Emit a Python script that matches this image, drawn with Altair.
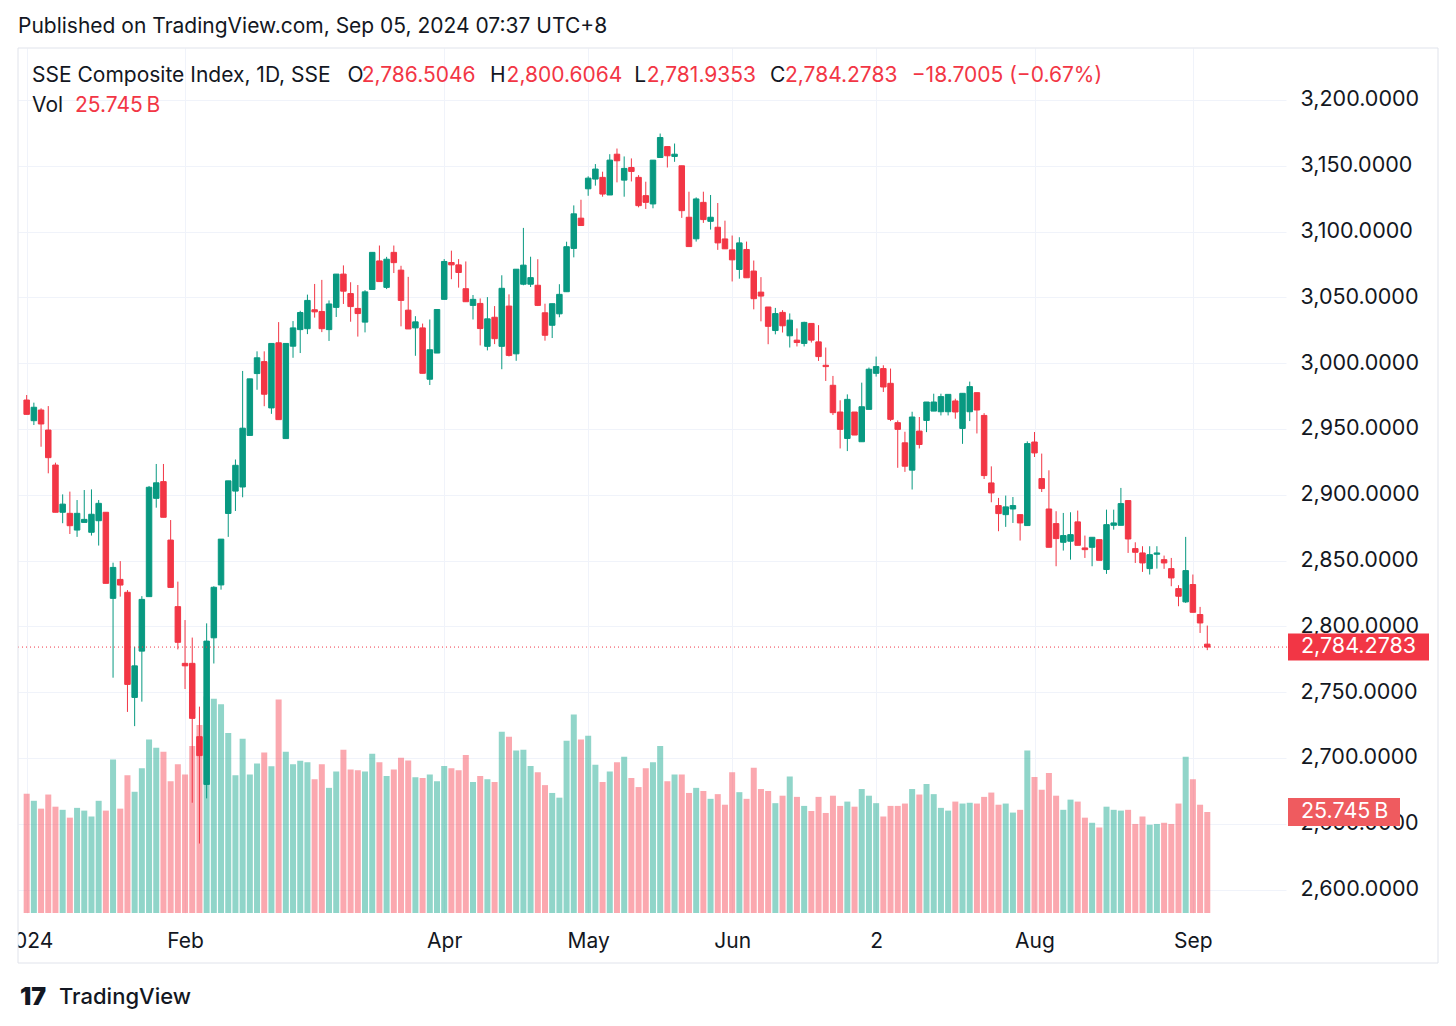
import altair as alt
import pandas as pd

# ---------------- data ----------------
open_ = [2972.0, 2956.3, 2964.4, 2949.2, 2922.6, 2886.7, 2885.9, 2873.2, 2879.0, 2871.5,
         2880.3, 2886.7, 2821.3, 2835.7, 2825.9, 2746.0, 2781.2, 2822.6, 2897.3, 2910.0,
         2865.6, 2815.0, 2771.9, 2771.9, 2716.2, 2679.9, 2791.3, 2831.5, 2885.8, 2902.8,
         2905.9, 2945.1, 2992.1, 3001.2, 2966.0, 3015.5, 2942.7, 3012.9, 3025.5, 3026.2,
         3040.6, 3039.3, 3025.5, 3042.4, 3067.7, 3052.9, 3041.6, 3031.2, 3056.0, 3077.7,
         3057.6, 3084.2, 3070.7, 3040.3, 3026.8, 3026.8, 2987.8, 3007.7, 3048.5, 3076.5,
         3074.7, 3056.6, 3043.9, 3045.4, 3012.8, 3034.9, 3012.8, 3043.4, 3007.1, 3060.0,
         3060.0, 3059.2, 3038.3, 3028.8, 3037.5, 3054.3, 3087.2, 3110.2, 3132.5, 3139.9,
         3141.2, 3127.8, 3158.8, 3139.1, 3148.7, 3141.2, 3127.3, 3121.0, 3156.3, 3164.6,
         3157.1, 3150.0, 3110.9, 3094.5, 3122.2, 3107.8, 3103.3, 3094.4, 3086.1, 3071.2,
         3086.4, 3070.0, 3054.0, 3042.7, 3024.8, 3038.6, 3020.8, 3017.5, 3015.0, 3030.2,
         3016.2, 2998.4, 2983.2, 2962.9, 2942.8, 2962.9, 2940.3, 2964.9, 2992.3, 2995.9,
         2984.7, 2954.8, 2939.5, 2918.7, 2948.4, 2956.5, 2963.6, 2963.1, 2963.1, 2971.3,
         2950.4, 2963.1, 2977.6, 2960.3, 2909.0, 2891.8, 2884.9, 2889.2, 2884.9, 2876.6,
         2940.1, 2912.3, 2889.2, 2878.1, 2863.9, 2864.7, 2879.4, 2859.6, 2860.1, 2865.9,
         2843.2, 2876.8, 2876.8, 2895.6, 2859.1, 2855.8, 2843.9, 2854.8, 2850.7, 2843.9,
         2828.7, 2818.6, 2831.8, 2809.0, 2786.5046]

high_ = [2975.8, 2970.0, 2965.7, 2967.4, 2924.4, 2900.3, 2902.4, 2896.0, 2903.6, 2904.1,
         2896.0, 2886.7, 2848.4, 2849.6, 2827.6, 2784.5, 2823.0, 2906.7, 2923.4, 2923.4,
         2880.8, 2834.0, 2804.8, 2791.5, 2739.0, 2802.3, 2830.5, 2866.3, 2910.6, 2926.8,
         2994.1, 2988.1, 3009.0, 3009.0, 3015.0, 3031.2, 3015.0, 3032.0, 3039.8, 3052.1,
         3060.2, 3063.3, 3047.7, 3067.7, 3074.3, 3061.5, 3059.4, 3055.5, 3084.2, 3089.4,
         3080.8, 3089.4, 3074.0, 3065.6, 3035.7, 3030.1, 3033.2, 3040.8, 3079.1, 3085.5,
         3079.1, 3077.3, 3051.8, 3049.2, 3050.2, 3043.4, 3066.8, 3052.3, 3071.4, 3102.8,
         3080.9, 3079.0, 3045.2, 3045.2, 3060.0, 3092.3, 3119.9, 3124.2, 3142.0, 3151.3,
         3145.5, 3158.8, 3163.1, 3157.1, 3155.6, 3142.9, 3137.9, 3154.3, 3174.5, 3164.6,
         3166.9, 3150.0, 3130.3, 3126.0, 3130.3, 3127.8, 3121.7, 3108.3, 3097.0, 3095.7,
         3092.4, 3078.0, 3065.4, 3042.7, 3042.0, 3040.3, 3037.8, 3026.4, 3031.5, 3030.2,
         3028.9, 3011.9, 2990.3, 2971.8, 2976.3, 2962.9, 2985.2, 2996.7, 3005.0, 2998.4,
         2995.9, 2956.5, 2947.9, 2963.1, 2959.1, 2970.5, 2976.8, 2976.8, 2976.3, 2973.0,
         2977.1, 2986.0, 2977.6, 2962.0, 2921.6, 2897.6, 2899.4, 2898.3, 2884.9, 2940.6,
         2947.7, 2931.3, 2918.6, 2887.5, 2886.2, 2886.7, 2888.0, 2869.0, 2867.7, 2865.9,
         2888.7, 2888.7, 2905.2, 2895.6, 2863.9, 2860.9, 2860.9, 2860.9, 2853.8, 2852.0,
         2831.3, 2868.0, 2839.4, 2814.8, 2800.6064]

low_ = [2961.1, 2953.0, 2936.5, 2916.3, 2886.7, 2878.4, 2870.2, 2868.0, 2879.0, 2869.0,
        2861.4, 2832.7, 2761.0, 2822.6, 2735.0, 2724.2, 2742.8, 2822.6, 2890.2, 2882.9,
        2829.6, 2782.5, 2752.4, 2666.0, 2635.0, 2669.3, 2771.8, 2827.9, 2868.0, 2887.7,
        2898.1, 2945.1, 2979.8, 2967.3, 2961.5, 2957.1, 2942.7, 3004.1, 3007.7, 3022.1,
        3034.6, 3023.6, 3016.9, 3035.1, 3045.0, 3031.5, 3020.2, 3023.4, 3056.0, 3062.0,
        3056.3, 3068.5, 3028.0, 3026.0, 3005.6, 2992.3, 2983.4, 3007.7, 3048.5, 3063.8,
        3057.4, 3046.7, 3033.2, 3013.5, 3009.7, 3014.5, 2995.4, 3005.1, 3001.8, 3059.2,
        3057.9, 3043.4, 3017.1, 3019.1, 3034.9, 3054.3, 3080.4, 3104.6, 3127.2, 3134.9,
        3126.5, 3127.8, 3137.4, 3126.5, 3138.1, 3118.4, 3117.2, 3117.7, 3156.3, 3148.7,
        3153.0, 3110.4, 3088.6, 3092.4, 3106.6, 3101.5, 3086.1, 3086.9, 3062.1, 3064.2,
        3064.9, 3040.9, 3031.8, 3014.4, 3021.9, 3023.3, 3011.9, 3012.7, 3012.7, 3015.7,
        3001.7, 2986.5, 2960.6, 2935.2, 2933.2, 2945.4, 2940.3, 2964.9, 2989.8, 2978.1,
        2956.0, 2920.5, 2917.4, 2904.0, 2935.2, 2947.6, 2963.6, 2960.3, 2960.3, 2957.8,
        2938.7, 2956.0, 2946.6, 2912.0, 2894.3, 2872.3, 2875.6, 2878.6, 2865.2, 2876.6,
        2928.7, 2902.1, 2860.1, 2845.7, 2857.6, 2850.7, 2861.6, 2852.0, 2845.7, 2850.2,
        2839.9, 2873.5, 2876.8, 2855.8, 2848.2, 2841.4, 2839.4, 2843.9, 2843.7, 2830.5,
        2815.3, 2817.8, 2810.7, 2795.0, 2781.9353]

close_ = [2961.1, 2966.5, 2953.8, 2928.2, 2886.7, 2892.9, 2876.5, 2885.9, 2881.3, 2885.2,
          2893.5, 2832.7, 2844.8, 2831.4, 2755.9, 2770.0, 2820.5, 2905.7, 2909.1, 2882.9,
          2829.6, 2787.9, 2770.0, 2730.1, 2701.8, 2788.8, 2829.7, 2866.3, 2910.6, 2922.4,
          2950.6, 2988.1, 3004.1, 2976.4, 3015.0, 2957.1, 3015.0, 3026.8, 3038.5, 3047.7,
          3039.0, 3026.2, 3045.0, 3067.7, 3054.7, 3043.0, 3037.7, 3054.2, 3084.2, 3062.0,
          3079.0, 3076.4, 3047.7, 3026.0, 3031.4, 2992.3, 3010.2, 3040.8, 3077.3, 3074.7,
          3068.9, 3046.7, 3048.5, 3026.3, 3033.7, 3018.6, 3056.9, 3005.9, 3071.4, 3074.5,
          3065.0, 3043.9, 3021.2, 3045.2, 3052.3, 3088.5, 3113.5, 3104.6, 3140.6, 3147.5,
          3128.5, 3154.3, 3153.8, 3148.0, 3145.7, 3119.7, 3122.2, 3154.3, 3171.5, 3157.6,
          3158.8, 3115.9, 3088.6, 3124.8, 3109.1, 3110.9, 3091.4, 3086.9, 3078.5, 3091.4,
          3064.9, 3049.0, 3051.0, 3028.0, 3037.7, 3028.4, 3032.7, 3015.7, 3031.0, 3017.5,
          3005.0, 2997.4, 2962.4, 2949.7, 2972.5, 2945.4, 2966.9, 2995.4, 2997.4, 2981.9,
          2957.3, 2949.7, 2921.7, 2959.1, 2938.2, 2970.5, 2970.5, 2974.6, 2976.3, 2962.9,
          2977.1, 2982.2, 2964.4, 2914.6, 2901.4, 2885.7, 2890.8, 2891.8, 2878.6, 2938.9,
          2931.8, 2904.7, 2860.1, 2866.7, 2869.0, 2869.7, 2861.6, 2858.3, 2867.7, 2850.2,
          2877.3, 2878.6, 2893.3, 2866.4, 2856.3, 2848.2, 2854.5, 2855.8, 2848.2, 2836.8,
          2822.9, 2842.4, 2810.7, 2802.6, 2784.2783]

volume_b = [30.4, 28.6, 26.6, 30.2, 27.1, 26.3, 24.3, 26.8, 26.1, 24.6,
            28.6, 26.1, 39.1, 26.6, 35.1, 30.9, 36.9, 44.2, 42.1, 41.1,
            33.6, 37.9, 35.3, 42.6, 47.9, 55.2, 54.6, 53.2, 45.9, 35.1,
            44.4, 35.3, 38.1, 40.9, 37.4, 54.4, 41.1, 37.9, 38.8, 38.4,
            34.1, 37.9, 31.9, 36.1, 41.6, 36.6, 36.4, 36.1, 40.6, 38.4,
            34.9, 36.6, 39.6, 38.9, 34.6, 34.4, 35.3, 33.6, 37.5, 36.9,
            36.4, 40.3, 33.4, 34.9, 34.1, 33.4, 46.2, 44.9, 41.4, 41.6,
            37.5, 35.9, 32.6, 30.6, 29.4, 43.9, 50.6, 44.2, 45.2, 37.8,
            33.4, 36.1, 38.4, 39.8, 34.4, 32.1, 36.9, 38.4, 42.6, 33.6,
            35.3, 35.3, 30.6, 31.9, 31.1, 29.1, 30.3, 27.6, 35.9, 30.8,
            29.1, 37.0, 31.6, 31.1, 28.0, 29.9, 34.8, 29.6, 27.3, 26.0,
            29.6, 25.5, 29.9, 27.3, 28.4, 27.1, 31.6, 29.9, 28.0, 24.6,
            27.3, 27.3, 27.9, 31.6, 30.2, 32.9, 30.3, 26.8, 26.1, 28.4,
            27.9, 28.1, 27.9, 29.6, 30.7, 27.6, 27.9, 25.6, 26.3, 41.4,
            34.7, 31.4, 35.7, 29.9, 26.3, 28.9, 28.4, 24.3, 23.0, 21.8,
            27.1, 26.3, 26.1, 26.3, 22.7, 24.6, 22.5, 22.7, 23.0, 22.7,
            27.9, 39.8, 34.1, 27.6, 25.745]

tick_index = [0, 22, 58, 78, 98, 118, 140, 162]
tick_labels = ["2024", "Feb", "Apr", "May", "Jun", "2", "Aug", "Sep"]
price_ticks = [2600, 2650, 2700, 2750, 2800, 2850, 2900, 2950, 3000,
               3050, 3100, 3150, 3200]

# ---------------- styling ----------------
FONT = "Inter"
TXT = "#131722"
UP = "#089981"
DOWN = "#F23645"
VUP = "#22AB94"
VDOWN = "#F7525F"
GRID = "#F0F3FA"
FRAME = "#E0E3EB"
W, H = 1268, 865
FS = 21      # legend / header font size
AFS = 21.5   # price scale font size

df = pd.DataFrame({
    "i": list(range(len(open_))),
    "open": open_, "high": high_, "low": low_, "close": close_, "vol": volume_b,
})
df["dir"] = ["up" if c >= o else "down" for o, c in zip(open_, close_)]

last = pd.DataFrame({"c": [close_[-1]], "v": [volume_b[-1]]})
one = pd.DataFrame({"k": [0]})

x_scale = alt.Scale(domain=[-0.51, 174.24], nice=False, zero=False)
p_scale = alt.Scale(domain=[2582.2, 3239.5], nice=False, zero=False)
v_scale = alt.Scale(domain=[0, 220.5], nice=False, zero=False)
c_scale = alt.Scale(domain=["up", "down"], range=[UP, DOWN])
vc_scale = alt.Scale(domain=["up", "down"], range=[VUP, VDOWN])

expr = "''"
for idx, lab in reversed(list(zip(tick_index, tick_labels))):
    expr = f"datum.value == {idx} ? '{lab}' : ({expr})"

x_axis = alt.Axis(values=tick_index, labelExpr=expr, grid=True, gridColor=GRID,
                  domain=False, ticks=False, labelPadding=28, labelBaseline="middle",
                  labelFontSize=21, labelFont=FONT, labelColor=TXT, labelFlush=False,
                  labelOverlap=False, title=None, zindex=0)
y_axis = alt.Axis(orient="right", values=price_ticks, format=",.4f", grid=True,
                  gridColor=GRID, domain=False, ticks=False, labelPadding=14,
                  labelAlign="left", labelBaseline="middle", labelFontSize=AFS,
                  labelFont=FONT, labelColor=TXT, title=None, zindex=0)

X = alt.X("i:Q", scale=x_scale, axis=x_axis)

vol = alt.Chart(df).mark_bar(width=6, opacity=0.5).encode(
    x=X,
    y=alt.Y("vol:Q", scale=v_scale, axis=None),
    color=alt.Color("dir:N", scale=vc_scale, legend=None),
)

wick = alt.Chart(df).mark_rule(strokeWidth=1).encode(
    x=X,
    y=alt.Y("low:Q", scale=p_scale, axis=y_axis),
    y2="high:Q",
    color=alt.Color("dir:N", scale=c_scale, legend=None),
)

body = alt.Chart(df).mark_bar(width=5.5, strokeWidth=1).encode(
    x=X,
    y=alt.Y("open:Q", scale=p_scale, axis=None),
    y2="close:Q",
    color=alt.Color("dir:N", scale=c_scale, legend=None),
    stroke=alt.Stroke("dir:N", scale=c_scale, legend=None),
)

price_line = alt.Chart(last).mark_rule(color=DOWN, strokeWidth=1, strokeDash=[1, 3]).encode(
    y=alt.Y("c:Q", scale=p_scale, axis=None),
    x=alt.value(0), x2=alt.value(1270),
)
price_box = alt.Chart(last).mark_rule(color=DOWN, strokeWidth=27).encode(
    y=alt.Y("c:Q", scale=p_scale, axis=None),
    x=alt.value(1270), x2=alt.value(1411),
)
price_txt = alt.Chart(last).mark_text(align="left", baseline="middle", fontSize=AFS,
                                      font=FONT, color="white").encode(
    y=alt.Y("c:Q", scale=p_scale, axis=None),
    x=alt.value(1283),
    text=alt.Text("c:Q", format=",.4f"),
)
vol_box = alt.Chart(last).mark_rule(color="#EF5B5F", strokeWidth=28).encode(
    y=alt.Y("v:Q", scale=v_scale, axis=None),
    x=alt.value(1270), x2=alt.value(1382),
)
vol_txt = alt.Chart(last).transform_calculate(
    lab="format(datum.v, '.3f') + '\u2009B'"
).mark_text(align="left", baseline="middle", fontSize=AFS, font=FONT, color="white").encode(
    y=alt.Y("v:Q", scale=v_scale, axis=None),
    x=alt.value(1283),
    text="lab:N",
)


def txt(s, x, y, color=TXT, size=FS, weight="normal"):
    return alt.Chart(one).mark_text(text=s, align="left", baseline="middle",
                                    fontSize=size, font=FONT, color=color,
                                    fontWeight=weight).encode(
        x=alt.value(x), y=alt.value(y))


texts = [
    txt("Published on TradingView.com, Sep 05, 2024 07:37 UTC+8", 0, -21),
    txt("SSE Composite Index, 1D, SSE", 14, 28),
    txt("O", 329.6, 28), txt("2,786.5046", 343.7, 28, DOWN),
    txt("H", 472, 28), txt("2,800.6064", 488.6, 28, DOWN),
    txt("L", 616.3, 28), txt("2,781.9353", 628.7, 28, DOWN),
    txt("C", 752, 28), txt("2,784.2783", 767, 28, DOWN),
    txt("\u221218.7005 (\u22120.67%)", 893.7, 28, DOWN),
    txt("Vol", 14, 58), txt("25.745\u2009B", 57, 58, DOWN),
    txt("17", 2, 949, TXT, 25, 900),
    txt("TradingView", 41, 949, TXT, 22, 500),
]

cover = alt.Chart(one).mark_rect(color="white").encode(
    x=alt.value(-10), x2=alt.value(0), y=alt.value(875), y2=alt.value(912))
frame = alt.Chart(one).mark_rect(fillOpacity=0, stroke=FRAME, strokeWidth=1).encode(
    x=alt.value(0), x2=alt.value(1420), y=alt.value(0), y2=alt.value(915))

chart = alt.layer(
    vol, wick, body, price_line, price_box, price_txt, vol_box, vol_txt,
    *texts, cover, frame
).resolve_scale(
    y="independent", color="independent", stroke="independent"
).properties(
    width=W, height=H,
    padding={"left": 10, "top": 40, "right": 160, "bottom": 105},
    autosize=alt.AutoSizeParams(type="none"),
    background="white",
).configure_view(stroke=None)

chart.save("out.html", embed_options={"renderer": "svg", "actions": False})
